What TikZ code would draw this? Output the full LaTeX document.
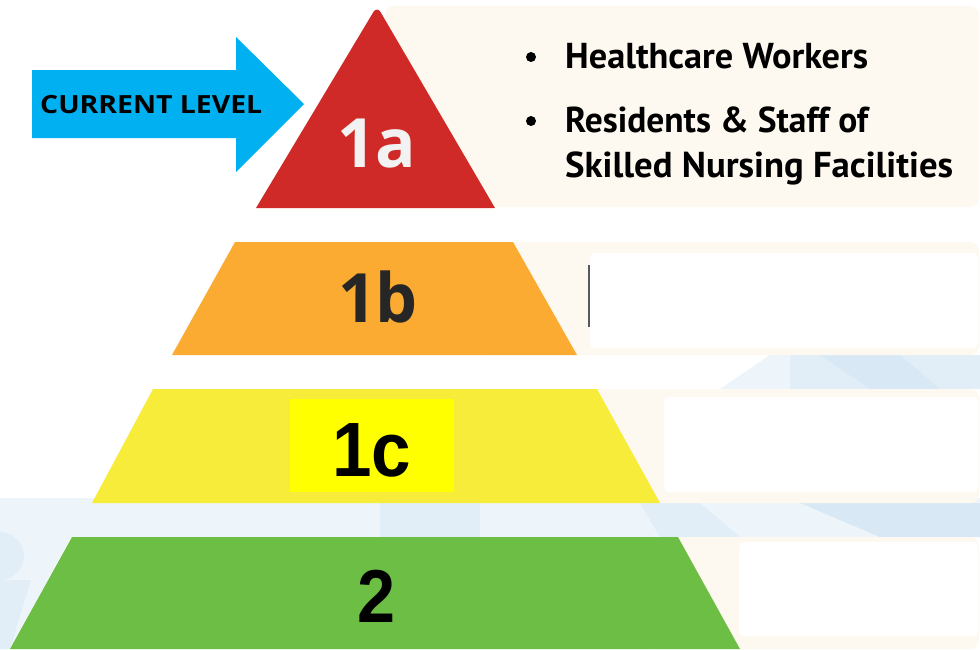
\documentclass[tikz,border=0pt]{standalone}
\usepackage{fontspec}
\usepackage{graphicx}
\setmainfont{Liberation Sans}
\newfontfamily\lvfont{Open Sans}
\newfontfamily\ptfont{PT Sans}
\definecolor{lvred}{HTML}{CF2A27}
\definecolor{lvorange}{HTML}{FBAB31}
\definecolor{lvyellow}{HTML}{F8EC3A}
\definecolor{lvhl}{HTML}{FFFF00}
\definecolor{lvgreen}{HTML}{6DBE45}
\definecolor{arrowblue}{HTML}{00B0F0}
\definecolor{cream}{HTML}{FEF9F0}
\definecolor{bgA}{HTML}{EDF4FA}
\definecolor{bgB}{HTML}{E2EEF7}
\definecolor{bgC}{HTML}{D8E8F4}
\definecolor{txtlight}{HTML}{F2F2F2}
\definecolor{txtdark}{HTML}{262626}
\tikzset{
  panel/.style={fill=cream, rounded corners=9pt},
  slot/.style={fill=white, rounded corners=5pt},
  bulletline/.style={anchor=base west, inner sep=0pt, font=\ptfont\bfseries\fontsize{36}{36}\selectfont},
  bulletdot/.style={fill=black},
  lvlabel/.style={anchor=base, inner sep=0pt}
}
\begin{document}
\begin{tikzpicture}[x=1pt,y=-1pt]
\useasboundingbox (0,0) rectangle (980,649);
\fill[white] (0,0) rectangle (980,649);
% background light-blue pattern
\fill[bgA] (0,498) rectangle (980,537);
\fill[bgA] (0,498) -- (92,498) -- (10,649) -- (0,649) -- cycle;
\fill[bgB] (0,580) -- (31,580) -- (10,649) -- (0,649) -- cycle;
\fill[bgB] (0,556) circle (24pt);
\fill[bgB] (380,503) rectangle (480,537);
\fill[bgB] (640,503) -- (700,503) -- (740,537) -- (660,537) -- cycle;
\fill[bgC] (800,503) -- (880,537) -- (980,537) -- (980,503) -- cycle;
\fill[bgA] (720,389) -- (770,355) -- (980,355) -- (980,389) -- cycle;
\fill[bgB] (790,355) rectangle (980,389);
\fill[bgC] (820,355) -- (870,389) -- (940,389) -- (900,355) -- cycle;
% cream panels and white slots
\fill[panel] (385,6) rectangle (979,207);
\fill[panel] (480,242) rectangle (979,355);
\fill[slot] (590,253) rectangle (978,348);
\fill[panel] (560,389) rectangle (979,503);
\fill[slot] (664,397) rectangle (978,492);
\fill[panel] (640,537) rectangle (979,649);
\fill[slot] (739,542) rectangle (978,636);
\draw[black!65, line width=1.5pt] (589,265) -- (589,327);
% pyramid levels
\fill[lvred] (256,208) [rounded corners=7pt] -- (377,6) [sharp corners] -- (495,208) -- cycle;
\fill[lvorange] (235,242) -- (513,242) -- (577,355) -- (172,355) -- cycle;
\fill[lvyellow] (153,389) -- (597,389) -- (660,503) -- (92,503) -- cycle;
\fill[lvhl] (290,399) rectangle (454,492);
\fill[lvgreen] (72,537) -- (678,537) -- (740,649) -- (10,649) -- cycle;
% level labels
\node[lvlabel, text=txtlight] (l1a) at (377,167) {\resizebox{79pt}{\height}{\lvfont\bfseries\fontsize{68}{68}\selectfont 1a}};
\node[lvlabel, text=txtdark] (l1b) at (378,322) {\resizebox{80pt}{\height}{\lvfont\bfseries\fontsize{68}{68}\selectfont 1b}};
\node[lvlabel, text=black] (l1c) at (372,476) {\resizebox{79pt}{\height}{\bfseries\fontsize{77}{77}\selectfont 1c}};
\node[lvlabel, text=black] (l2) at (376,622) {\resizebox{38pt}{\height}{\bfseries\fontsize{75}{75}\selectfont 2}};
% current level arrow
\fill[arrowblue] (32,70) -- (236,70) -- (236,37) -- (304,104) -- (236,172) -- (236,138) -- (32,138) -- cycle;
\node[anchor=base west, inner sep=0pt] (cur) at (40,113) {\resizebox{222pt}{\height}{\lvfont\bfseries\fontsize{25}{25}\selectfont CURRENT LEVEL}};
% bullet text
\fill[bulletdot] (531,57) circle (5pt);
\fill[bulletdot] (531,121) circle (5pt);
\node[bulletline] (b1) at (565,68) {\resizebox{303pt}{\height}{Healthcare Workers}};
\node[bulletline] (b2) at (565,132) {\resizebox{303pt}{\height}{Residents \& Staff of}};
\node[bulletline] (b3) at (565,177) {\resizebox{388pt}{\height}{Skilled Nursing Facilities}};
\end{tikzpicture}
\end{document}
